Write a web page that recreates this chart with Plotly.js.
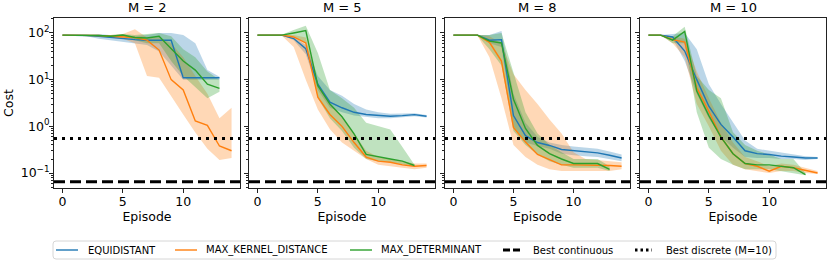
<!DOCTYPE html>
<html>
<head>
<meta charset="utf-8">
<script src="https://cdn.plot.ly/plotly-3.0.1.min.js"></script>
<style>html,body{margin:0;padding:0;background:#fff;}#chart{width:830px;height:264px;}</style>
</head>
<body>
<div id="chart"></div>
<script>
// ---------- data ----------
const episodes = [0,1,2,3,4,5,6,7,8,9,10,11,12,13,14];
const panelTitles = ["M = 2", "M = 5", "M = 8", "M = 10"];
const methodNames = ["EQUIDISTANT", "MAX_KERNEL_DISTANCE", "MAX_DETERMINANT"];
const refNames = ["Best continuous", "Best discrete (M=10)"];
const bestContinuous = 0.065;
const bestDiscrete = 0.547;

// M = 2
const m2_equi_mean = [90,90,88,85,80,75,72,70,70,70,11,11,11,11];
const m2_equi_lo   = [90,90,85,75,70,65,60,55,40,20,10,10,10,10];
const m2_equi_hi   = [90,90,92,95,90,85,85,90,100,100,90,60,16,11.5];
const m2_kern_mean = [90,90,90,88,85,82,80,70,43,10,6,1.3,1.05,0.38,0.3];
const m2_kern_lo   = [90,90,88,85,80,75,60,12,11,4.5,1.8,0.74,0.33,0.19,0.21];
const m2_kern_hi   = [90,90,92,92,90,95,120,80,80,60,30,12,5,1.5,2.5];
const m2_det_mean  = [90,90,90,88,85,90,80,78,85,45,25,16,8,6.5];
const m2_det_lo    = [90,90,88,85,80,85,70,60,60,25,12,7,4,5.5];
const m2_det_hi    = [90,90,92,92,90,95,90,95,100,85,45,30,15,10];

// M = 5
const m5_equi_mean = [90,90,90,76,46,8,3.3,2.5,2.0,1.8,1.7,1.65,1.7,1.78,1.65];
const m5_equi_lo   = [90,90,90,70,35,6,2.5,2.0,1.7,1.6,1.5,1.5,1.55,1.65,1.55];
const m5_equi_hi   = [90,90,90,82,55,12,6,4.5,3,2.3,2.0,1.85,1.85,1.9,1.75];
const m5_kern_mean = [90,90,90,82,61,4.2,1.8,1.0,0.45,0.22,0.18,0.17,0.15,0.14,0.145];
const m5_kern_lo   = [90,90,88,50,10,2.3,0.87,0.45,0.3,0.2,0.15,0.14,0.13,0.12,0.13];
const m5_kern_hi   = [90,90,92,90,80,8,3,1.5,0.7,0.3,0.22,0.2,0.18,0.16,0.16];
const m5_det_mean  = [90,90,90,100,112,7.4,3.0,1.6,0.69,0.25,0.22,0.2,0.18,0.145];
const m5_det_lo    = [90,90,88,85,60,4,1.5,0.8,0.35,0.2,0.18,0.17,0.15,0.14];
const m5_det_hi    = [90,90,92,115,143,37,6,4,2.5,1.2,1.0,0.86,0.36,0.15];

// M = 8
const m8_equi_mean = [90,90,90,70,72,1.7,0.63,0.45,0.39,0.32,0.3,0.29,0.27,0.24,0.21];
const m8_equi_lo   = [90,90,88,60,50,1.0,0.45,0.38,0.33,0.26,0.24,0.23,0.22,0.2,0.18];
const m8_equi_hi   = [90,90,92,90,110,5,1.2,0.6,0.45,0.4,0.37,0.35,0.33,0.29,0.25];
const m8_kern_mean = [90,90,90,63,25,0.95,0.46,0.25,0.19,0.15,0.15,0.15,0.15,0.145,0.14];
const m8_kern_lo   = [90,90,88,30,4,0.4,0.22,0.15,0.12,0.11,0.11,0.11,0.11,0.11,0.12];
const m8_kern_hi   = [90,90,92,85,60,13,6,3,1.4,0.7,0.28,0.2,0.19,0.18,0.17];
const m8_det_mean  = [90,90,90,67,61,3.8,0.9,0.39,0.26,0.2,0.16,0.16,0.16,0.12];
const m8_det_lo    = [90,90,88,45,20,0.8,0.4,0.25,0.18,0.15,0.13,0.13,0.13,0.11];
const m8_det_hi    = [90,90,92,90,100,15,2,0.7,0.4,0.28,0.2,0.2,0.2,0.14];

// M = 10
const m10_equi_mean = [90,90,82,41,10,2.7,1.1,0.59,0.3,0.26,0.25,0.23,0.22,0.21,0.21];
const m10_equi_lo   = [90,90,75,25,5,1.5,0.6,0.35,0.22,0.21,0.21,0.2,0.2,0.19,0.2];
const m10_equi_hi   = [90,90,95,100,45,8,3,1.2,0.5,0.33,0.3,0.27,0.25,0.23,0.22];
const m10_kern_mean = [90,90,72,64,6.7,2.1,0.59,0.26,0.16,0.14,0.11,0.14,0.13,0.115,0.1];
const m10_kern_lo   = [90,90,60,30,3,1.0,0.3,0.15,0.12,0.11,0.1,0.11,0.11,0.1,0.095];
const m10_kern_hi   = [90,90,85,75,15,4,1.2,0.45,0.22,0.18,0.14,0.16,0.15,0.13,0.11];
const m10_det_mean  = [90,90,70,108,5.7,1.7,0.59,0.26,0.16,0.15,0.15,0.14,0.13,0.093];
const m10_det_lo    = [90,90,60,60,2,0.35,0.2,0.15,0.12,0.12,0.12,0.11,0.1,0.09];
const m10_det_hi    = [90,90,85,135,12,6,4,0.75,0.4,0.3,0.25,0.2,0.2,0.1];

const yTickVals = [0.1, 1, 10, 100];
const yTickText = ["10<sup>−1</sup>", "10<sup>0</sup>", "10<sup>1</sup>", "10<sup>2</sup>"];
const xTickVals = [0, 5, 10];

// ---------- build ----------
const panels = [
  [[m2_equi_mean,m2_equi_lo,m2_equi_hi],[m2_kern_mean,m2_kern_lo,m2_kern_hi],[m2_det_mean,m2_det_lo,m2_det_hi]],
  [[m5_equi_mean,m5_equi_lo,m5_equi_hi],[m5_kern_mean,m5_kern_lo,m5_kern_hi],[m5_det_mean,m5_det_lo,m5_det_hi]],
  [[m8_equi_mean,m8_equi_lo,m8_equi_hi],[m8_kern_mean,m8_kern_lo,m8_kern_hi],[m8_det_mean,m8_det_lo,m8_det_hi]],
  [[m10_equi_mean,m10_equi_lo,m10_equi_hi],[m10_kern_mean,m10_kern_lo,m10_kern_hi],[m10_det_mean,m10_det_lo,m10_det_hi]]
];
const colors = ["#1f77b4", "#ff7f0e", "#2ca02c"];
const fills = ["rgba(31,119,180,0.3)", "rgba(255,127,14,0.3)", "rgba(44,160,44,0.3)"];

const W = 830, H = 264;
const pxX = [[54,240],[249,435],[445,630],[640,826]];
const plotTop = 18, plotBottom = 188;
const yDomain = [1 - plotBottom/H, 1 - plotTop/H];
const fontFam = "DejaVu Sans, sans-serif";
const dashCont = "11px,5px", dashDisc = "3px,5px";

const traces = [];
panels.forEach((series, p) => {
  const xa = p === 0 ? "x" : "x" + (p+1);
  const ya = p === 0 ? "y" : "y" + (p+1);
  series.forEach((s, m) => {
    const [mean, lo, hi] = s;
    const xs = episodes.slice(0, mean.length);
    traces.push({
      x: xs.concat(xs.slice().reverse()),
      y: hi.concat(lo.slice().reverse()),
      xaxis: xa, yaxis: ya, mode: "lines", fill: "toself",
      fillcolor: fills[m], line: {width: 0, color: fills[m]},
      showlegend: false, hoverinfo: "skip"
    });
  });
  series.forEach((s, m) => {
    const [mean] = s;
    const xs = episodes.slice(0, mean.length);
    traces.push({
      x: xs, y: mean, xaxis: xa, yaxis: ya, mode: "lines",
      line: {color: colors[m], width: 1.4},
      name: methodNames[m], showlegend: false
    });
  });
});

const minorVals = [];
[-2,-1,0,1,2].forEach(e => { for (let k = 2; k <= 9; k++) minorVals.push(k * Math.pow(10, e)); });

const layout = {
  width: W, height: H,
  margin: {l:0, r:0, t:0, b:0},
  paper_bgcolor: "white", plot_bgcolor: "white",
  font: {family: fontFam, color: "black", size: 12.5},
  showlegend: false,
  shapes: [],
  annotations: []
};

pxX.forEach((px, p) => {
  const sfx = p === 0 ? "" : String(p+1);
  layout["xaxis" + sfx] = {
    domain: [px[0]/W, px[1]/W], anchor: "y" + sfx,
    range: [-0.7, 14.7], tickvals: xTickVals, ticks: "outside", ticklen: 4,
    tickcolor: "#222", showgrid: false, zeroline: false, ticklabelstandoff: -2,
    showline: true, mirror: true, linecolor: "#222", linewidth: 1,
    tickfont: {size: 12.5}, title: {text: "Episode", font: {size: 12.5}, standoff: 0}
  };
  layout["yaxis" + sfx] = {
    domain: yDomain, anchor: "x" + sfx, type: "log",
    range: [-1.32, 2.32], tickvals: yTickVals, ticktext: yTickText,
    showticklabels: p === 0, ticks: "outside", ticklen: 4, tickcolor: "#222",
    ticklabelstandoff: -3,
    minor: {tickmode: "array", tickvals: minorVals, ticks: "outside", ticklen: 2, tickcolor: "#222", showgrid: false},
    showgrid: false, zeroline: false, showline: true, mirror: true,
    linecolor: "#222", linewidth: 1, tickfont: {size: 12.5},
    title: p === 0 ? {text: "Cost", font: {size: 12.5}, standoff: 4} : {text: ""}
  };
  layout.shapes.push({type:"line", xref:"x" + sfx + " domain", x0:0, x1:1, yref:"y" + sfx,
    y0: bestContinuous, y1: bestContinuous, line:{color:"black", width:3, dash:dashCont}});
  layout.shapes.push({type:"line", xref:"x" + sfx + " domain", x0:0, x1:1, yref:"y" + sfx,
    y0: bestDiscrete, y1: bestDiscrete, line:{color:"black", width:3, dash:dashDisc}});
  layout.annotations.push({text: panelTitles[p], xref:"paper", yref:"paper",
    x: (px[0]+px[1])/2/W, y: yDomain[1], xanchor:"center", yanchor:"bottom", yshift: 1,
    showarrow:false, font:{size: 13}});
});

// ---------- legend (drawn as shapes + text) ----------
const lgBox = {x0: 53, x1: 776, y0: 241, y1: 259};
const r = 3;
const bx = v => v / W, by = v => 1 - v / H;
layout.shapes.push({
  type: "path", xref: "paper", yref: "paper",
  path: `M ${bx(lgBox.x0 + r)},${by(lgBox.y0)} L ${bx(lgBox.x1 - r)},${by(lgBox.y0)} Q ${bx(lgBox.x1)},${by(lgBox.y0)} ${bx(lgBox.x1)},${by(lgBox.y0 + r)} L ${bx(lgBox.x1)},${by(lgBox.y1 - r)} Q ${bx(lgBox.x1)},${by(lgBox.y1)} ${bx(lgBox.x1 - r)},${by(lgBox.y1)} L ${bx(lgBox.x0 + r)},${by(lgBox.y1)} Q ${bx(lgBox.x0)},${by(lgBox.y1)} ${bx(lgBox.x0)},${by(lgBox.y1 - r)} L ${bx(lgBox.x0)},${by(lgBox.y0 + r)} Q ${bx(lgBox.x0)},${by(lgBox.y0)} ${bx(lgBox.x0 + r)},${by(lgBox.y0)} Z`,
  line: {color: "#d6d6d6", width: 1}, fillcolor: "rgba(255,255,255,0.8)"
});
const lgItems = [
  {name: methodNames[0], color: colors[0], width: 1.4, dash: "solid", sx: [56, 78], tx: 86},
  {name: methodNames[1], color: colors[1], width: 1.4, dash: "solid", sx: [175, 197], tx: 204},
  {name: methodNames[2], color: colors[2], width: 1.4, dash: "solid", sx: [350, 372], tx: 379},
  {name: refNames[0], color: "black", width: 3, dash: "7px,3px", sx: [503, 523], tx: 531},
  {name: refNames[1], color: "black", width: 3, dash: "2.5px,3px", sx: [635, 652], tx: 664}
];
const lgY = 250;
lgItems.forEach(it => {
  layout.shapes.push({type: "line", xref: "paper", yref: "paper",
    x0: bx(it.sx[0]), x1: bx(it.sx[1]), y0: by(lgY), y1: by(lgY),
    line: {color: it.color, width: it.width, dash: it.dash}});
  layout.annotations.push({text: it.name, xref: "paper", yref: "paper",
    x: bx(it.tx), y: by(lgY), xanchor: "left", yanchor: "middle",
    showarrow: false, font: {size: 10, family: fontFam}});
});

Plotly.newPlot("chart", traces, layout, {displayModeBar: false, staticPlot: true});
</script>
</body>
</html>
